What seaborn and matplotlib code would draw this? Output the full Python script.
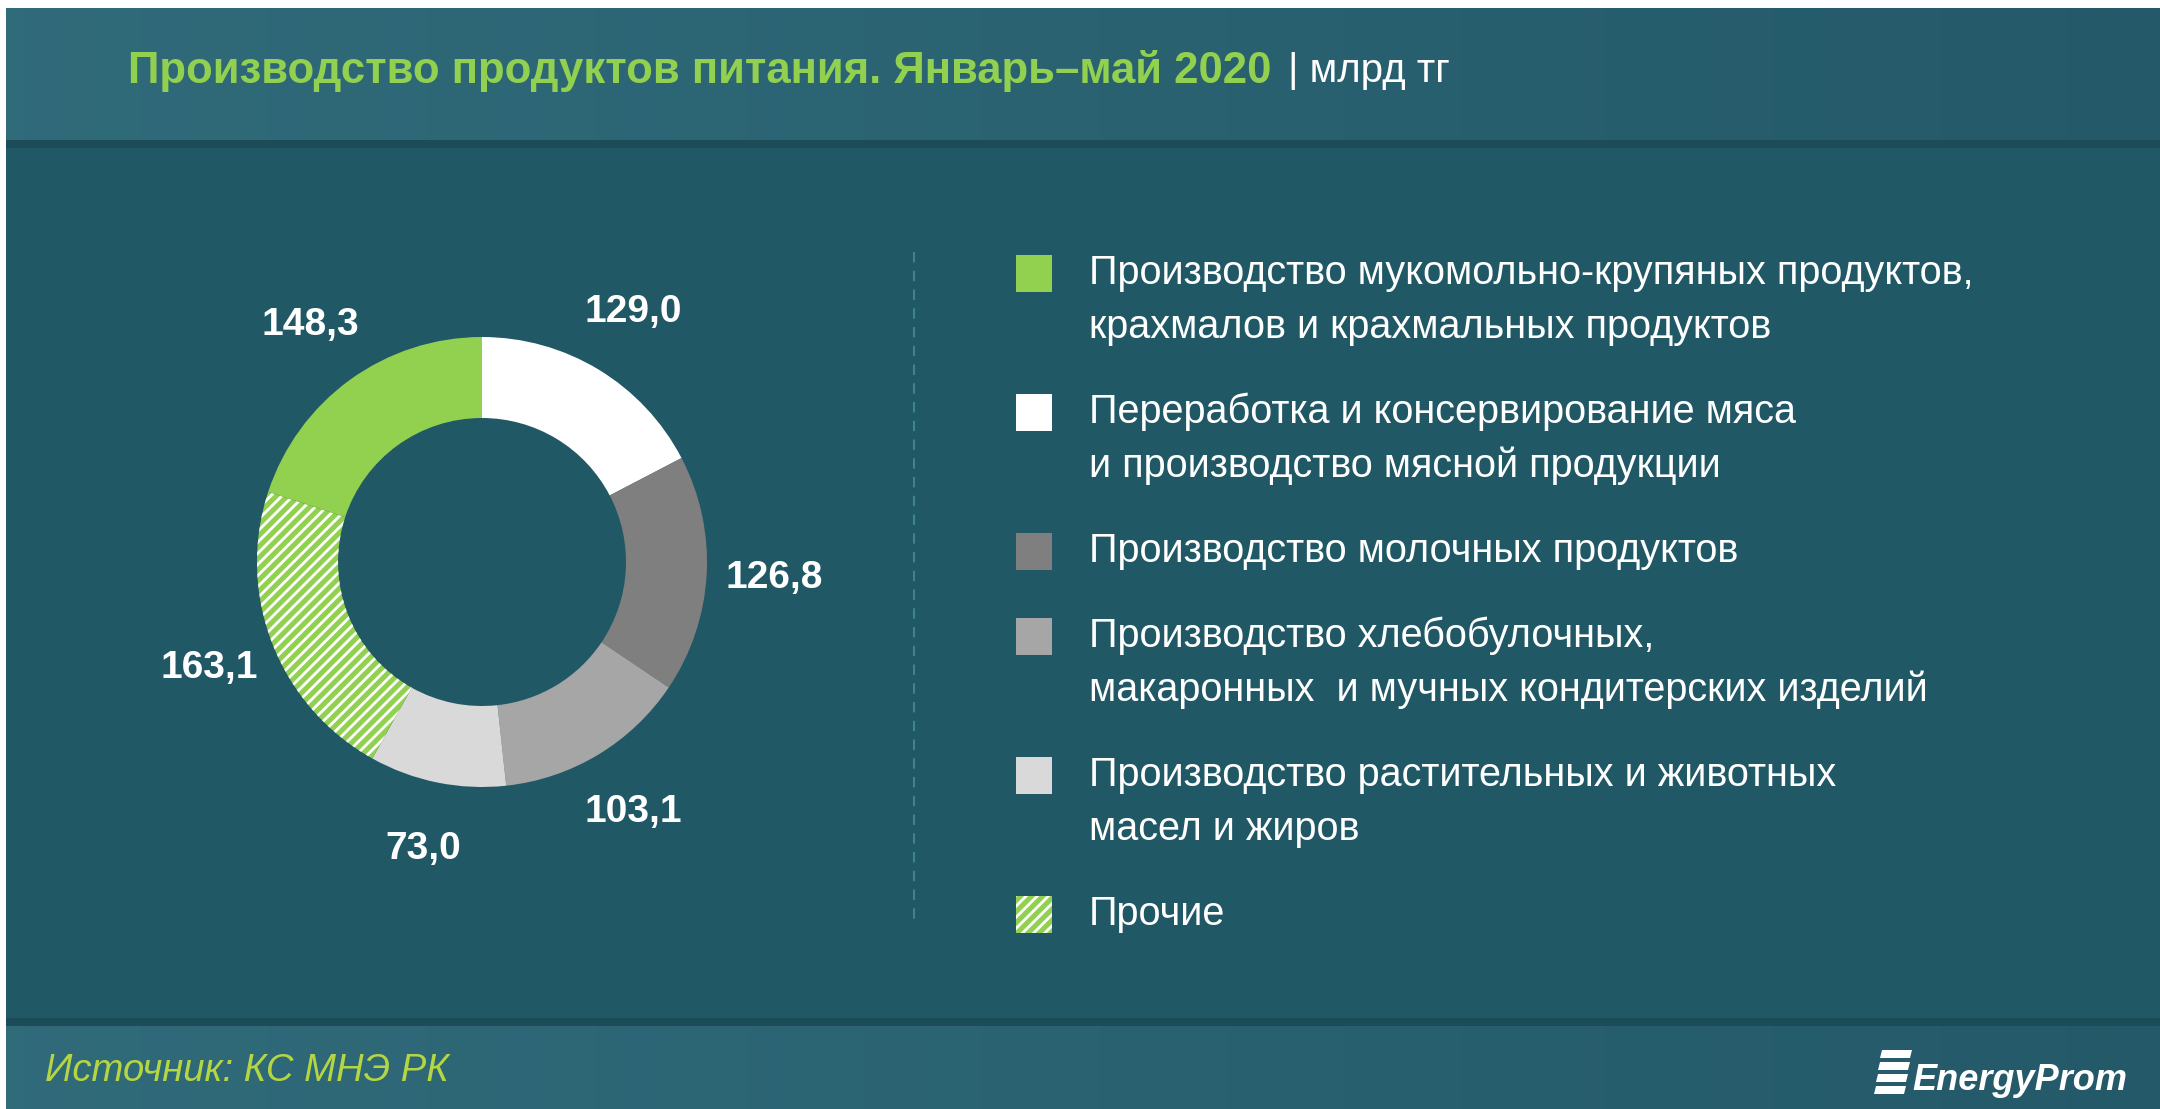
import numpy as np
import matplotlib
matplotlib.use("Agg")
import matplotlib.pyplot as plt
from matplotlib.patches import Rectangle, Polygon
import seaborn as sns

# data
categories = [
    "Производство мукомольно-крупяных продуктов,\nкрахмалов и крахмальных продуктов",
    "Переработка и консервирование мяса\nи производство мясной продукции",
    "Производство молочных продуктов",
    "Производство хлебобулочных,\nмакаронных  и мучных кондитерских изделий",
    "Производство растительных и животных\nмасел и жиров",
    "Прочие",
]
values = [148.3, 129.0, 126.8, 103.1, 73.0, 163.1]
value_labels = ["148,3", "129,0", "126,8", "103,1", "73,0", "163,1"]
colors = ["#92d050", "#ffffff", "#7f7f7f", "#a6a6a6", "#d9d9d9", "#92d050"]
hatched = [False, False, False, False, False, True]

title = "Производство продуктов питания. Январь–май 2020"
unit = "| млрд тг"
source = "Источник: КС МНЭ РК"

sns.set_theme(style="white")
plt.rcParams["font.family"] = ["Liberation Sans", "DejaVu Sans"]
plt.rcParams["hatch.linewidth"] = 2.0

W, H = 2160, 1109
fig = plt.figure(figsize=(W / 100, H / 100), dpi=100)
fig.patch.set_facecolor("white")

# background layer in pixel coords
bg = fig.add_axes([0, 0, 1, 1], zorder=0)
bg.set_xlim(0, W)
bg.set_ylim(H, 0)
bg.axis("off")

body = "#205866"
bg.add_patch(Rectangle((6, 8), W - 6, H - 8, color=body, lw=0))
grad = np.linspace(0, 1, 256)[None, :, None]
left_c = np.array([0.19, 0.42, 0.48])
right_c = np.array([0.14, 0.35, 0.41])
band = left_c * (1 - grad) + right_c * grad
bg.imshow(band, extent=(6, W, 140, 8), aspect="auto", zorder=1)
bg.imshow(band, extent=(6, W, H, 1026), aspect="auto", zorder=1)
bg.add_patch(Rectangle((6, 140), W - 6, 8, color="#1b4c58", lw=0, zorder=1))
bg.add_patch(Rectangle((6, 1018), W - 6, 8, color="#1b4c58", lw=0, zorder=1))
bg.set_xlim(0, W)
bg.set_ylim(H, 0)

# title
t = bg.text(128, 71, title, color="#92d050", fontsize=31.5, fontweight="bold",
            va="center", ha="left", zorder=3)
bg.annotate(unit, xy=(1, 0.5), xycoords=t, xytext=(12, 0), textcoords="offset points",
            color="white", fontsize=29, va="center", ha="left", zorder=3)

# separator
bg.plot([914, 914], [252, 923], color="#3f8294", lw=1.5, ls=(0, (5, 4)), zorder=2)

# legend
y = 273
for name, col, h in zip(categories, colors, hatched):
    sq = Rectangle((1016, y - 18), 36, 37, facecolor=col, edgecolor="white" if h else col,
                   lw=0, hatch="///" if h else None, zorder=3)
    bg.add_patch(sq)
    lines = name.split("\n")
    for i, line in enumerate(lines):
        bg.text(1089, y + i * 54, line, color="white", fontsize=28.5,
                va="center", ha="left", zorder=3)
    y += len(lines) * 54 + 31

# footer
bg.text(45, 1071, source, color="#b5d642", fontsize=27.5, fontstyle="italic",
        va="center", ha="left", zorder=3)
for k in range(4):
    yy = 1050 + k * 12
    bg.add_patch(Polygon([(1882 - k * 2, yy), (1912 - k * 2, yy), (1910 - k * 2, yy + 8),
                          (1880 - k * 2, yy + 8)], closed=True, color="white", lw=0, zorder=3))
bg.text(1912, 1080, "EnergyProm", color="white", fontsize=26, fontstyle="italic",
        fontweight="bold", va="center", ha="left", zorder=3)

# donut
cx, cy, R = 482, 562, 225
span = 1.5
side = 2 * R * span
ax = fig.add_axes([(cx - side / 2) / W, (H - cy - side / 2) / H, side / W, side / H], zorder=2)
ax.set_facecolor("none")
order = [1, 2, 3, 4, 5, 0]
wedges, texts = ax.pie([values[i] for i in order],
                       labels=[value_labels[i] for i in order],
                       colors=[colors[i] for i in order],
                       startangle=90, counterclock=False, radius=1,
                       labeldistance=1.3,
                       wedgeprops=dict(width=0.36, linewidth=0),
                       textprops=dict(color="white", fontsize=28, fontweight="bold"))
for w, i in zip(wedges, order):
    if hatched[i]:
        w.set_edgecolor("white")
        w.set_linewidth(0)
        w.set_hatch("///")
for tx in texts:
    tx.set_ha("center")
    tx.set_va("center")
ax.set_xlim(-span, span)
ax.set_ylim(-span, span)
ax.set_aspect("equal")
ax.axis("off")

fig.savefig("out.png", dpi=100, facecolor=fig.get_facecolor())
